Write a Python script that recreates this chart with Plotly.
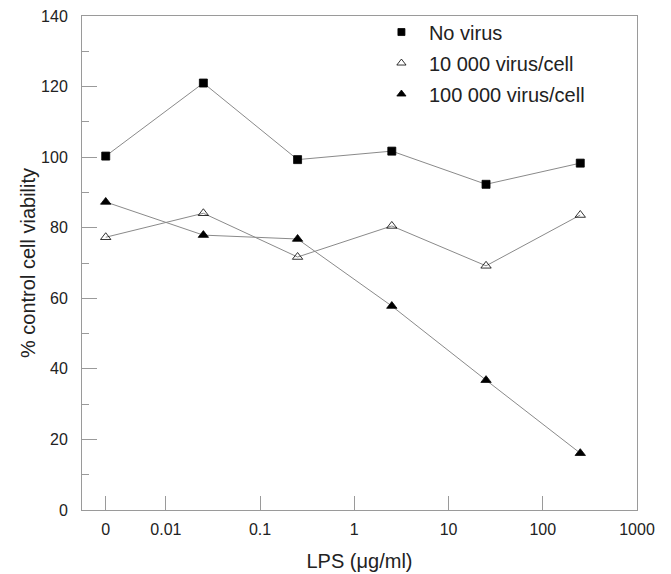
import plotly.graph_objects as go

# Data
lps = [0, 0.025, 0.25, 2.5, 25, 250]          # LPS (µg/ml)
no_virus = [100.3, 121.0, 99.3, 101.7, 92.3, 98.3]
virus_10k = [77.3, 84.1, 71.7, 80.5, 69.2, 83.6]
virus_100k = [87.3, 77.9, 76.8, 57.8, 36.8, 16.1]

x_tick_labels = ["0", "0.01", "0.1", "1", "10", "100", "1000"]
x_tick_values = [0, 0.01, 0.1, 1, 10, 100, 1000]
ZERO_POS = 0.0023  # where the "0" concentration is drawn on the log axis


def to_axis(v):
    return ZERO_POS if v == 0 else v


xs = [to_axis(v) for v in lps]
tickvals = [to_axis(v) for v in x_tick_values]

FONT = "Liberation Sans, Arial, sans-serif"
LINE = "#8a8a8a"
AX = "#9a9a9a"

series = [
    ("No virus", no_virus, "square", "black", 8),
    ("10 000 virus/cell", virus_10k, "triangle-up-open", "black", 9),
    ("100 000 virus/cell", virus_100k, "triangle-up", "black", 9),
]

fig = go.Figure()
for name, ys, sym, col, sz in series:
    fig.add_trace(go.Scatter(
        x=xs, y=ys, mode="lines+markers", showlegend=False,
        line=dict(color=LINE, width=1),
        marker=dict(symbol=sym, size=sz, color=col,
                    line=dict(color="black", width=0.8)),
    ))
for i, (name, ys, sym, col, sz) in enumerate(series):
    fig.add_trace(go.Scatter(
        x=[None], y=[None], mode="markers", name=name, legendgroup=str(i),
        marker=dict(symbol=sym, size=sz - 1, color=col,
                    line=dict(color="black", width=0.8)),
    ))

# the page body adds an 8px offset, so the figure is 8px smaller
fig.update_layout(
    width=663, height=566,
    margin=dict(l=74, r=34, t=8, b=64, autoexpand=False),
    paper_bgcolor="white", plot_bgcolor="white",
    font=dict(family=FONT, size=16, color="#222"),
    legend=dict(x=0.526, y=1.007, xanchor="left", yanchor="top",
                font=dict(size=20, color="#222"), tracegroupgap=2,
                bgcolor="rgba(0,0,0,0)", itemwidth=45),
    xaxis=dict(
        type="log", range=[-2.89, 3.0], automargin=False,
        tickvals=tickvals, ticktext=x_tick_labels,
        ticks="inside", ticklen=14, tickcolor=AX, tickwidth=1,
        showline=True, linecolor=AX, linewidth=1, mirror=True,
        showgrid=False, zeroline=False, ticklabelstandoff=5,
        ticklabeloverflow="allow",
        tickfont=dict(size=16),
        title=dict(text="LPS (\u03bcg/ml)", font=dict(size=20), standoff=16),
    ),
    yaxis=dict(
        range=[0, 140], dtick=20, tick0=0, automargin=False,
        ticks="inside", ticklen=15, tickcolor=AX, tickwidth=1,
        minor=dict(dtick=10, ticklen=7, tickcolor=AX, ticks="inside"),
        showline=True, linecolor=AX, linewidth=1, mirror=True,
        showgrid=False, zeroline=False, ticklabelstandoff=10,
        ticklabeloverflow="allow",
        tickfont=dict(size=16),
        title=dict(text="% control cell viability", font=dict(size=20), standoff=0),
    ),
)

fig.write_html("out.html")
